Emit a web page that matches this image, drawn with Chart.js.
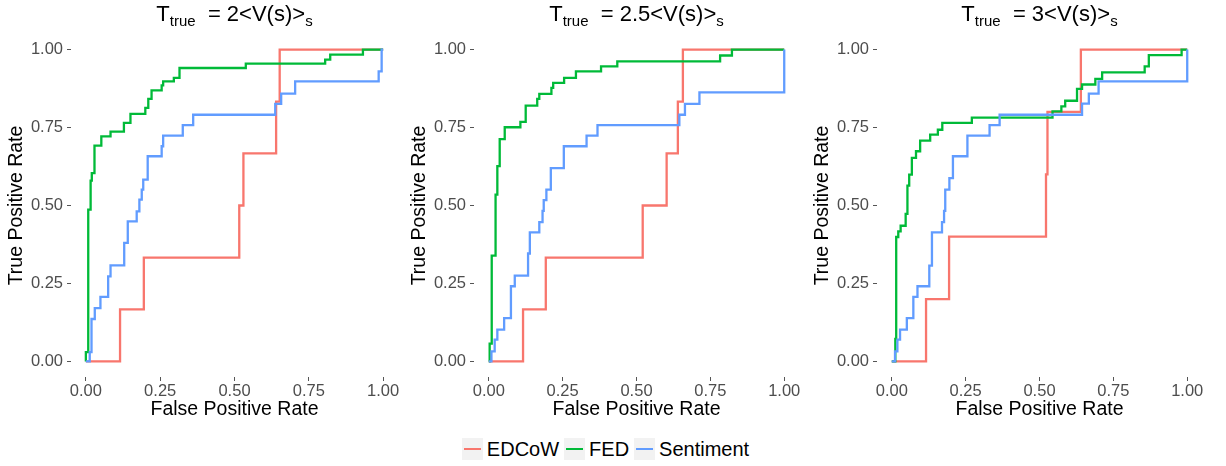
<!DOCTYPE html>
<html>
<head>
<meta charset="utf-8">
<script src="https://cdn.jsdelivr.net/npm/chart.js@4.4.1/dist/chart.umd.min.js"></script>
<style>
    body { margin: 0; background: #fff; font-family: "Liberation Sans", Arial, sans-serif; }
    #wrap { position: relative; width: 1226px; height: 466px; overflow: hidden; }
    canvas { position: absolute; top: 0; }
    .ptitle { position: absolute; top: 2px; height: 24px; line-height: 24px; font-size: 22px; color: #000; text-align: center; white-space: nowrap; }
    .ptitle .sb { font-size: 15px; position: relative; top: 5px; }
    #legend { position: absolute; top: 438px; left: -5px; width: 1226px; display: flex; justify-content: center; font-size: 20px; line-height: 22px; color: #000; }
    .item { display: flex; align-items: center; margin-right: 5px; }
    .key { width: 21px; height: 22px; background: #f2f2f2; position: relative; margin-right: 4px; }
    .key span { position: absolute; left: 2px; right: 2px; top: 10px; height: 2px; }
</style>
</head>
<body>
<div id="wrap">
    <canvas id="c1" width="406" height="425" style="left:0px"></canvas>
    <canvas id="c2" width="404" height="425" style="left:403px"></canvas>
    <canvas id="c3" width="404" height="425" style="left:806px"></canvas>
    <div class="ptitle" style="left:71px;width:327px">T<span class="sb">true</span>&nbsp; = 2&lt;V(s)&gt;<span class="sb">s</span></div>
    <div class="ptitle" style="left:474px;width:325px">T<span class="sb">true</span>&nbsp; = 2.5&lt;V(s)&gt;<span class="sb">s</span></div>
    <div class="ptitle" style="left:877px;width:325px">T<span class="sb">true</span>&nbsp; = 3&lt;V(s)&gt;<span class="sb">s</span></div>
    <div id="legend"></div>
</div>
<script>
// ROC points as [false positive rate, true positive rate]
const seriesNames = ['EDCoW', 'FED', 'Sentiment'];
const seriesColors = ['#F8766D', '#00BA38', '#619CFF'];
const tickValues = [0, 0.25, 0.5, 0.75, 1];

const edcow2 = [[0,0],[0.115,0.167],[0.195,0.333],[0.516,0.5],[0.53,0.667],[0.64,0.833],[0.652,1],[1,1]];
const fed2 = [[0,0],[0,0.03],[0.008,0.487],[0.016,0.58],[0.02,0.604],[0.029,0.692],[0.052,0.722],[0.083,0.737],[0.128,0.765],[0.15,0.794],[0.2,0.813],[0.21,0.842],[0.221,0.869],[0.255,0.885],[0.26,0.898],[0.296,0.909],[0.315,0.941],[0.538,0.955],[0.805,0.968],[0.822,0.984],[0.932,1],[1,1]];
const sent2 = [[0,0],[0.013,0.03],[0.019,0.136],[0.03,0.171],[0.049,0.207],[0.075,0.273],[0.083,0.308],[0.129,0.38],[0.141,0.449],[0.171,0.481],[0.18,0.519],[0.188,0.551],[0.193,0.583],[0.208,0.658],[0.255,0.69],[0.26,0.724],[0.326,0.758],[0.361,0.791],[0.637,0.826],[0.657,0.859],[0.704,0.898],[0.985,0.93],[0.995,1],[1,1]];

const edcow25 = [[0,0],[0.116,0.167],[0.193,0.333],[0.521,0.5],[0.602,0.667],[0.64,0.833],[0.657,1],[1,1]];
const fed25 = [[0,0],[0.003,0.057],[0.01,0.339],[0.023,0.535],[0.029,0.626],[0.037,0.713],[0.054,0.751],[0.107,0.768],[0.125,0.82],[0.164,0.842],[0.171,0.858],[0.212,0.877],[0.218,0.893],[0.255,0.909],[0.295,0.93],[0.38,0.946],[0.435,0.962],[0.783,0.981],[0.823,1],[1,1]];
const sent25 = [[0,0],[0.009,0.032],[0.02,0.07],[0.029,0.102],[0.052,0.139],[0.075,0.241],[0.088,0.275],[0.133,0.346],[0.139,0.414],[0.171,0.447],[0.182,0.483],[0.186,0.517],[0.195,0.551],[0.21,0.62],[0.254,0.69],[0.331,0.724],[0.368,0.758],[0.645,0.791],[0.664,0.826],[0.713,0.863],[1,1]];

const edcow3 = [[0,0],[0.116,0.2],[0.194,0.4],[0.522,0.6],[0.527,0.8],[0.64,1],[1,1]];
const fed3 = [[0,0],[0.012,0.072],[0.015,0.399],[0.022,0.417],[0.03,0.435],[0.047,0.473],[0.053,0.564],[0.059,0.599],[0.068,0.653],[0.082,0.674],[0.096,0.708],[0.13,0.727],[0.156,0.743],[0.171,0.765],[0.271,0.782],[0.544,0.802],[0.574,0.818],[0.587,0.836],[0.627,0.874],[0.644,0.888],[0.689,0.906],[0.712,0.927],[0.856,0.946],[0.87,0.982],[0.981,1],[1,1]];
const sent3 = [[0,0],[0.011,0.032],[0.019,0.07],[0.028,0.102],[0.051,0.139],[0.073,0.207],[0.087,0.241],[0.127,0.307],[0.136,0.414],[0.17,0.447],[0.177,0.483],[0.181,0.551],[0.195,0.588],[0.207,0.658],[0.256,0.724],[0.331,0.758],[0.365,0.791],[0.644,0.827],[0.667,0.859],[0.70,0.898],[1,1]];

const panels = [
    { id: 'c1', series: [edcow2, fed2, sent2] },
    { id: 'c2', series: [edcow25, fed25, sent25] },
    { id: 'c3', series: [edcow3, fed3, sent3] }
];

const tickFont = { family: '"Liberation Sans", Arial, sans-serif', size: 16.5 };
const titleFont = { family: '"Liberation Sans", Arial, sans-serif', size: 19.5 };

function makeAxis(isX) {
    return {
        type: 'linear',
        min: -0.05,
        max: 1.05,
        afterBuildTicks: (scale) => {
            scale.ticks = tickValues.map(v => ({ value: v }));
        },
        afterFit: (scale) => {
            if (isX) scale.height = 48;
            else scale.width = 71;
        },
        grid: { drawOnChartArea: false, drawTicks: true, tickLength: 4, color: '#555555', lineWidth: 1 },
        border: { display: false },
        ticks: {
            color: '#4d4d4d',
            font: tickFont,
            padding: isX ? 1 : 4,
            maxRotation: 0,
            autoSkip: false,
            callback: (v) => Number(v).toFixed(2)
        },
        title: {
            display: true,
            text: isX ? 'False Positive Rate' : 'True Positive Rate',
            color: '#000',
            font: titleFont,
            padding: isX ? { top: 0, bottom: 4 } : { top: 5, bottom: 0 }
        }
    };
}

panels.forEach(p => {
    new Chart(document.getElementById(p.id), {
        type: 'line',
        data: {
            datasets: p.series.map((pts, i) => ({
                label: seriesNames[i],
                data: pts,
                borderColor: seriesColors[i],
                backgroundColor: seriesColors[i],
                borderWidth: 2.3,
                pointRadius: 0,
                stepped: 'before',
                fill: false,
                order: 3 - i
            }))
        },
        options: {
            responsive: false,
            animation: false,
            devicePixelRatio: 1,
            layout: { padding: { top: 34, right: 8, left: 0, bottom: 0 } },
            plugins: { legend: { display: false }, tooltip: { enabled: false } },
            scales: { x: makeAxis(true), y: makeAxis(false) }
        }
    });
});

const legendEl = document.getElementById('legend');
seriesNames.forEach((name, i) => {
    const item = document.createElement('div');
    item.className = 'item';
    item.innerHTML = `<div class="key"><span style="background:${seriesColors[i]}"></span></div><div>${name}</div>`;
    legendEl.appendChild(item);
});
</script>
</body>
</html>
